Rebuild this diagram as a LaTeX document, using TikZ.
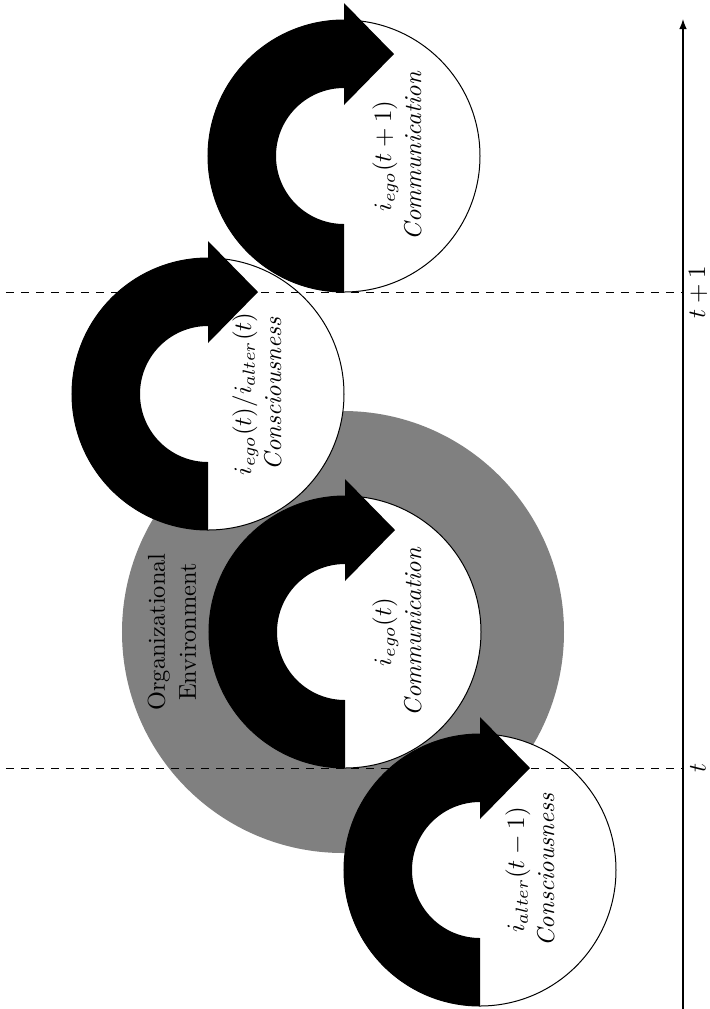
\documentclass[tikz,border=0pt]{standalone}
\usetikzlibrary{arrows.meta}
\begin{document}
\begin{tikzpicture}[x=0.4pt,y=0.4pt,
  env/.style={circle, fill=gray, minimum size=176.8pt, inner sep=0pt, outer sep=0pt},
  phase/.style={circle, draw=black, line width=0.4pt, fill=white, minimum size=108.8pt, inner sep=0pt, outer sep=0pt},
  lbl/.style={rotate=90, align=center, font=\fontsize{9.75}{12}\selectfont, inner sep=0pt},
  guide/.style={dashed, line width=0.4pt},
  axisline/.style={-{Latex[length=4pt,width=3pt]}, line width=0.5pt},
  cyclearrow/.pic={\fill[black] (0,-136) arc[start angle=270,end angle=90,radius=136]
      -- (0,153) -- (50,102) -- (0,51) -- (0,68)
      arc[start angle=90,end angle=270,radius=68] -- cycle;}
]
\useasboundingbox (0,0) rectangle (709,-1009);

% organizational environment
\node[env] (envdisk) at (343,-632) {};
\node[lbl, font=\fontsize{9.75}{12.4}\selectfont] (envlabel) at (172,-632) {Organizational\\Environment};

% phase 1
\node[phase] (c1) at (480,-870) {};
\pic at (480,-870) {cyclearrow};
\node[lbl] (l1) at (530,-870) {$i_{alter}(t-1)$\\\textit{Consciousness}};

% phase 2
\node[phase] (c2) at (345,-632) {};
\pic at (345,-632) {cyclearrow};
\node[lbl] (l2) at (397,-632) {$i_{ego}(t)$\\\textit{Communication}};

% phase 3
\node[phase] (c3) at (208,-394) {};
\pic at (208,-394) {cyclearrow};
\node[lbl] (l3) at (257,-394) {$i_{ego}(t)/i_{alter}(t)$\\\textit{Consciousness}};

% phase 4
\node[phase] (c4) at (344,-156) {};
\pic at (344,-156) {cyclearrow};
\node[lbl] (l4) at (397,-156) {$i_{ego}(t+1)$\\\textit{Communication}};

% time guides
\coordinate (ta) at (6,-768);
\coordinate (tb) at (683,-768);
\coordinate (ua) at (6,-292);
\coordinate (ub) at (683,-292);
\draw[guide] (ta) -- (tb);
\draw[guide] (ua) -- (ub);

% time axis
\coordinate (axstart) at (683,-1009);
\coordinate (axend) at (683,-19);
\draw[axisline] (axstart) -- (axend);
\node[lbl] (tl) at (698,-768) {$t$};
\node[lbl] (tl1) at (698,-292) {$t+1$};
\end{tikzpicture}
\end{document}
